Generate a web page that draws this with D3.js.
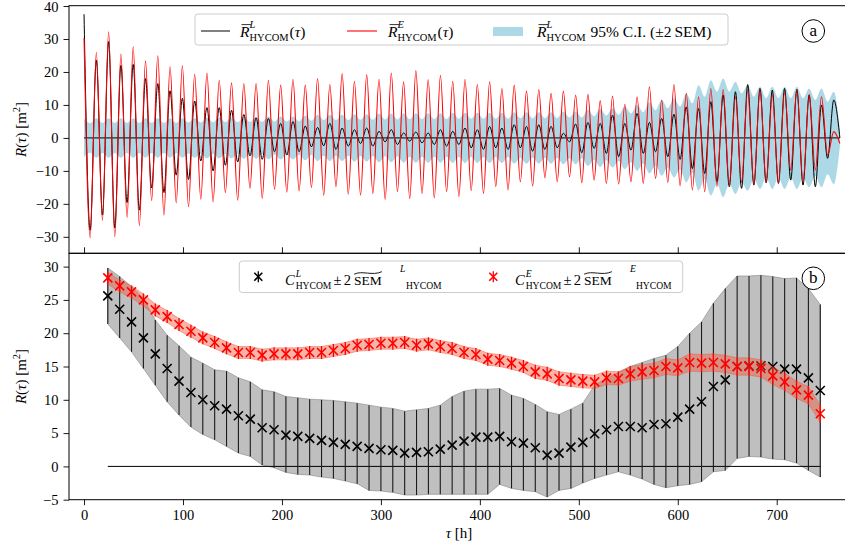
<!DOCTYPE html>
<html><head><meta charset="utf-8">
<script src="https://cdn.jsdelivr.net/npm/d3@7"></script>
<style>
html,body{margin:0;padding:0;background:#fff;}
svg{display:block;}
svg text{font-family:"Liberation Serif","DejaVu Serif",serif;white-space:pre;}
</style></head><body>
<svg id="chart" width="845" height="547"></svg>
<script>
// ---------- Panel (a): extrema of the tidal oscillations, one per half-cycle ----------
const tidalPeriod = 12.42; // h, spacing of successive peaks
const blackPeaks = [37.5, 23.6, 29.2, 22.0, 22.3, 18.0, 16.5, 14.3, 12.0, 11.2,
  9.2, 9.2, 8.4, 7.1, 6.1, 5.9, 4.4, 5.0, 3.6, 3.2,
  4.4, 3.0, 2.5, 3.0, 2.0, 2.5, 1.5, 1.8, 1.5, 2.5,
  2.0, 3.0, 2.5, 3.5, 3.0, 4.0, 3.5, 4.0, 3.5, 1.4,
  4.2, 4.7, 4.4, 6.9, 4.4, 7.4, 4.7, 5.9, 7.2, 9.4,
  8.9, 11.0, 13.0, 14.0, 16.2, 15.0, 14.5, 15.0, 14.7, 13.0,
  10.0, 11.5];
const blackTroughs = [-28.0, -23.4, -27.3, -19.6, -21.9, -15.2, -16.6, -11.3, -12.6, -7.0,
  -10.0, -8.3, -7.3, -5.5, -6.5, -4.2, -5.2, -4.2, -2.7, -2.4,
  -3.5, -2.5, -1.7, -2.5, -1.2, -2.0, -1.0, -1.5, -2.0, -2.5,
  -2.0, -3.0, -3.5, -3.0, -3.5, -3.0, -4.0, -3.5, -3.0, -1.2,
  -4.5, -3.2, -4.7, -5.7, -3.7, -4.7, -4.2, -5.7, -6.5, -9.3,
  -10.8, -13.3, -14.8, -15.3, -14.3, -13.6, -13.8, -12.8, -14.3, -14.8,
  -6.2, 0.0];
const redPeaks = [30.4, 25.9, 32.2, 25.4, 27.6, 23.3, 24.9, 21.6, 21.9, 19.3,
  19.7, 17.5, 16.7, 16.5, 16.5, 17.5, 16.0, 17.8, 16.0, 18.0,
  16.2, 19.5, 17.2, 19.2, 17.8, 19.7, 17.0, 20.4, 17.7, 19.0,
  17.2, 17.8, 16.2, 17.0, 15.0, 16.0, 14.2, 14.7, 13.5, 14.2,
  13.0, 13.2, 11.3, 12.7, 10.2, 12.5, 15.5, 11.5, 16.2, 13.5,
  12.5, 15.0, 14.7, 12.5, 14.5, 14.7, 13.2, 14.0, 14.7, 13.2,
  12.5, 1.9];
const redTroughs = [-30.3, -25.0, -30.0, -24.1, -26.6, -19.0, -23.4, -19.7, -20.9, -18.6,
  -19.4, -16.6, -18.9, -15.3, -18.4, -15.6, -16.5, -16.1, -15.1, -17.4,
  -14.8, -17.1, -17.4, -16.9, -18.7, -16.3, -18.4, -16.9, -18.2, -16.3,
  -17.8, -16.0, -16.9, -14.8, -15.8, -13.3, -14.6, -12.1, -13.3, -11.8,
  -13.6, -12.8, -13.8, -14.0, -13.3, -13.8, -12.3, -13.5, -14.5, -15.8,
  -16.3, -14.8, -14.3, -13.5, -14.3, -13.6, -13.8, -9.8, -13.5, -9.8,
  -5.2, -1.7];
// 95% C.I. half-width (±2 SEM) of R^L: wide and narrow part of each cycle
const ciOuter = [5.8, 6.0, 6.0, 6.0, 6.0, 6.0, 6.0, 6.0, 6.0, 6.0,
  6.2, 6.2, 6.2, 6.3, 6.3, 6.5, 6.5, 6.5, 6.8, 7.0,
  7.0, 7.0, 7.2, 7.2, 7.4, 7.4, 7.5, 7.5, 7.5, 7.5,
  7.6, 7.6, 7.6, 7.6, 7.6, 7.8, 7.8, 7.8, 7.8, 8.0,
  8.0, 8.5, 8.8, 9.0, 9.5, 10.0, 10.8, 11.5, 12.0, 13.5,
  16.0, 17.5, 18.0, 17.0, 16.0, 15.5, 15.5, 15.5, 15.5, 15.0,
  15.0, 14.0];
const ciInner = [4.5, 4.6, 4.6, 4.6, 4.6, 4.6, 4.6, 4.6, 4.7, 4.7,
  4.8, 4.8, 4.8, 4.9, 4.9, 5.0, 5.0, 5.1, 5.2, 5.4,
  5.4, 5.4, 5.5, 5.5, 5.6, 5.6, 5.7, 5.7, 5.7, 5.7,
  5.8, 5.8, 5.8, 5.8, 5.8, 6.0, 6.0, 6.0, 6.0, 6.2,
  6.2, 6.6, 6.8, 7.0, 7.4, 7.8, 8.4, 9.0, 9.5, 10.5,
  12.5, 14.0, 14.0, 13.5, 12.5, 12.0, 12.0, 12.0, 12.0, 11.5,
  11.0, 2.5];

// ---------- Panel (b) ----------
const tauB = [24, 36, 48, 60, 72, 84, 96, 108, 120, 132, 144, 156, 168, 180, 192, 204, 216, 228, 240, 252,
  264, 276, 288, 300, 312, 324, 336, 348, 360, 372, 384, 396, 408, 420, 432, 444, 456, 468, 480, 492,
  504, 516, 528, 540, 552, 564, 576, 588, 600, 612, 624, 636, 648, 660, 672, 684, 696, 708, 720, 732, 744];
const cL = [25.6, 23.6, 21.7, 19.3, 16.9, 14.7, 12.8, 11.1, 10.0, 9.1,
  8.6, 7.6, 7.1, 5.8, 5.5, 4.7, 4.5, 4.2, 3.9, 3.6,
  3.3, 3.0, 2.7, 2.5, 2.4, 2.0, 2.1, 2.2, 2.6, 3.2,
  3.8, 4.4, 4.4, 4.5, 3.7, 3.5, 2.8, 1.7, 2.0, 2.9,
  3.6, 4.9, 5.5, 6.0, 6.0, 5.8, 6.3, 6.4, 7.4, 8.6,
  9.7, 12.0, 13.0, 15.0, 15.1, 15.1, 15.0, 14.6, 14.6, 13.3,
  11.4];
const cLhi = [29.8, 28.5, 27.0, 25.2, 22.0, 19.7, 18.1, 16.4, 15.5, 14.5,
  14.3, 13.3, 12.7, 11.5, 11.2, 10.5, 10.3, 10.1, 10.0, 9.9,
  9.7, 9.5, 9.2, 8.9, 8.7, 8.3, 8.5, 8.7, 9.2, 10.5,
  11.3, 11.6, 11.6, 11.7, 10.7, 10.2, 9.3, 8.2, 7.8, 8.6,
  9.5, 12.2, 13.2, 14.1, 15.0, 15.6, 16.2, 16.7, 18.0, 20.0,
  21.7, 24.5, 26.7, 28.6, 28.6, 28.7, 28.5, 28.2, 28.3, 26.7,
  24.3];
const cLlo = [21.4, 19.3, 17.2, 14.7, 12.2, 9.7, 7.7, 5.9, 4.8, 4.0,
  3.0, 2.0, 1.5, 0.2, -0.2, -0.9, -1.2, -1.3, -1.6, -1.8,
  -2.2, -2.6, -3.6, -3.7, -3.9, -4.3, -4.3, -4.2, -4.2, -4.2,
  -4.2, -4.2, -4.2, -2.7, -3.3, -3.6, -3.8, -4.6, -3.6, -3.3,
  -2.5, -1.8, -1.3, -0.8, -1.3, -1.9, -2.7, -3.2, -2.9, -2.7,
  -2.3, -0.8, -0.6, 1.2, 1.5, 1.4, 1.1, 1.0, 0.5, -0.6,
  -1.6];
const cE = [28.3, 27.1, 26.2, 25.0, 23.5, 22.5, 21.3, 20.3, 19.3, 18.6,
  17.8, 17.1, 17.1, 16.7, 16.9, 16.9, 16.9, 17.1, 17.1, 17.4,
  17.7, 18.2, 18.3, 18.5, 18.5, 18.6, 18.2, 18.4, 18.0, 17.7,
  17.1, 16.8, 16.1, 15.9, 15.5, 15.0, 14.2, 13.9, 13.2, 13.0,
  12.8, 12.7, 13.3, 13.2, 13.9, 14.2, 14.4, 15.0, 14.8, 15.6,
  15.5, 15.6, 15.4, 15.0, 15.0, 14.7, 13.6, 12.7, 11.5, 10.7,
  7.9];
const cEhalf = [0.9, 0.9, 0.9, 0.9, 0.9, 0.9, 0.9, 0.9, 0.9, 0.9,
  0.9, 0.9, 0.9, 0.9, 0.9, 0.9, 0.9, 0.9, 0.9, 0.9,
  0.9, 0.9, 0.9, 0.9, 0.9, 0.9, 0.9, 0.9, 0.9, 0.9,
  0.9, 0.9, 0.9, 0.9, 0.9, 0.9, 1.0, 1.0, 1.0, 1.0,
  1.0, 1.0, 1.0, 1.0, 1.1, 1.1, 1.1, 1.2, 1.2, 1.3,
  1.3, 1.3, 1.3, 1.3, 1.3, 1.3, 1.3, 1.3, 1.3, 1.3,
  1.3];

const xTicks = [0, 100, 200, 300, 400, 500, 600, 700];
const yTicksA = [-30, -20, -10, 0, 10, 20, 30, 40];
const yTicksB = [-5, 0, 5, 10, 15, 20, 25, 30];

// ---------- Scales ----------
const svg = d3.select("#chart");
const x = d3.scaleLinear().domain([-15.2, 770]).range([69, 846]);
const yA = d3.scaleLinear().domain([-35.0, 40.1]).range([253.3, 5.7]);
const yB = d3.scaleLinear().domain([-5, 32]).range([499.7, 253.3]);
const fmt = d => (d < 0 ? "\u2212" + Math.abs(d) : String(d));

// ---------- Panel (a) ----------
const gA = svg.append("g");
const series = (hi, lo) => {
  const pts = [];
  hi.forEach((v, k) => { pts.push([k * tidalPeriod, v]); pts.push([(k + 0.5) * tidalPeriod, lo[k]]); });
  return pts;
};
const bandPts = series(ciOuter, ciInner);
gA.append("path").datum(bandPts)
  .attr("d", d3.area().x(d => x(d[0])).y0(d => yA(-d[1])).y1(d => yA(d[1])).curve(d3.curveMonotoneX))
  .attr("fill", "#add8e6");
const lastT = (blackPeaks.length - 0.5) * tidalPeriod;
gA.append("line").attr("x1", x(0)).attr("x2", x(lastT)).attr("y1", yA(0)).attr("y2", yA(0))
  .attr("stroke", "#000").attr("stroke-width", 1);
const lineA = d3.line().x(d => x(d[0])).y(d => yA(d[1])).curve(d3.curveMonotoneX);
gA.append("path").datum(series(blackPeaks, blackTroughs)).attr("d", lineA)
  .attr("fill", "none").attr("stroke", "#000").attr("stroke-width", 1);
gA.append("path").datum(series(redPeaks, redTroughs)).attr("d", lineA)
  .attr("fill", "none").attr("stroke", "#ff0000").attr("stroke-width", 1.1);

// ---------- Panel (b) ----------
const gB = svg.append("g");
const idx = d3.range(tauB.length);
gB.append("path").datum(idx)
  .attr("d", d3.area().x(i => x(tauB[i])).y0(i => yB(cLlo[i])).y1(i => yB(cLhi[i])))
  .attr("fill", "#7f7f7f").attr("fill-opacity", 0.5)
  .attr("stroke", "#7f7f7f").attr("stroke-opacity", 0.55).attr("stroke-width", 1);
gB.append("line").attr("x1", x(tauB[0])).attr("x2", x(tauB[tauB.length - 1]))
  .attr("y1", yB(0)).attr("y2", yB(0)).attr("stroke", "#000").attr("stroke-width", 1);
gB.selectAll(".ebL").data(idx).join("line")
  .attr("x1", i => x(tauB[i])).attr("x2", i => x(tauB[i]))
  .attr("y1", i => yB(cLlo[i])).attr("y2", i => yB(cLhi[i]))
  .attr("stroke", "#1a1a1a").attr("stroke-width", 1.1);
const xMark = s => `M${-s},${-s}L${s},${s}M${-s},${s}L${s},${-s}`;
gB.selectAll(".mkL").data(idx).join("path")
  .attr("transform", i => `translate(${x(tauB[i])},${yB(cL[i])})`)
  .attr("d", xMark(4.5)).attr("fill", "none").attr("stroke", "#000").attr("stroke-width", 1.6);
gB.append("path").datum(idx)
  .attr("d", d3.area().x(i => x(tauB[i])).y0(i => yB(cE[i] - cEhalf[i])).y1(i => yB(cE[i] + cEhalf[i])))
  .attr("fill", "#f0583c").attr("fill-opacity", 0.45)
  .attr("stroke", "#f0583c").attr("stroke-opacity", 0.45).attr("stroke-width", 1);
gB.selectAll(".ebE").data(idx).join("line")
  .attr("x1", i => x(tauB[i])).attr("x2", i => x(tauB[i]))
  .attr("y1", i => yB(cE[i] - cEhalf[i]) + 0.5).attr("y2", i => yB(cE[i] + cEhalf[i]) - 0.5)
  .attr("stroke", "#ff0000").attr("stroke-width", 1.3);
gB.selectAll(".mkE").data(idx).join("path")
  .attr("transform", i => `translate(${x(tauB[i])},${yB(cE[i])})`)
  .attr("d", xMark(4.5)).attr("fill", "none").attr("stroke", "#ff0000").attr("stroke-width", 1.6);

// ---------- Axes & frames ----------
function styleAxis(g) {
  g.attr("font-family", null).attr("font-size", null);
  g.select(".domain").remove();
  g.selectAll(".tick line").attr("stroke", "#000").attr("stroke-width", 0.9);
  g.selectAll(".tick text").attr("font-size", 14.5).attr("fill", "#000");
}
svg.append("g").attr("transform", "translate(69,0)")
  .call(d3.axisLeft(yA).tickValues(yTicksA).tickFormat(fmt).tickSize(5.5).tickPadding(5)).call(styleAxis)
  .selectAll(".tick").filter(d => d === 40).select("text").attr("y", 1.2);
svg.append("g").attr("transform", "translate(0,253.3)")
  .call(d3.axisBottom(x).tickValues(xTicks).tickFormat("").tickSize(-6)).call(styleAxis);
svg.append("g").attr("transform", "translate(69,0)")
  .call(d3.axisLeft(yB).tickValues(yTicksB).tickFormat(fmt).tickSize(5.5).tickPadding(5)).call(styleAxis);
svg.append("g").attr("transform", "translate(0,499.7)")
  .call(d3.axisBottom(x).tickValues(xTicks).tickFormat(fmt).tickSize(5.5).tickPadding(5)).call(styleAxis);
svg.append("rect").attr("x", 69).attr("y", 5.7).attr("width", 777).attr("height", 247.6)
  .attr("fill", "none").attr("stroke", "#000").attr("stroke-width", 1);
svg.append("rect").attr("x", 69).attr("y", 253.3).attr("width", 777).attr("height", 246.4)
  .attr("fill", "none").attr("stroke", "#000").attr("stroke-width", 1);

// ---------- Axis labels ----------
function yLabel(cy) {
  const t = svg.append("text").attr("transform", `translate(26,${cy}) rotate(-90)`)
    .attr("text-anchor", "middle").attr("font-size", 15);
  t.append("tspan").attr("font-style", "italic").text("R");
  t.append("tspan").text("(");
  t.append("tspan").attr("font-style", "italic").text("\u03c4");
  t.append("tspan").text(") [m");
  t.append("tspan").attr("font-size", 10.5).attr("dy", -6).text("2");
  t.append("tspan").attr("dy", 6).text("]");
}
yLabel(129.5);
yLabel(376.5);
const xl = svg.append("text").attr("x", 459).attr("y", 538).attr("text-anchor", "middle").attr("font-size", 15);
xl.append("tspan").attr("font-style", "italic").text("\u03c4");
xl.append("tspan").text(" [h]");

// ---------- Math-like text layout ----------
function mathText(g, x0, y0, parts, fs, sfs) {
  let cx = x0;
  const ss = sfs || fs * 0.7;
  for (const p of parts) {
    if (p.gap) { cx += p.gap; continue; }
    if (p.script) {
      const sx = cx + (p.dx || 0);
      let w = 0;
      if (p.sup != null) {
        const t = g.append("text").attr("x", sx + (p.supDx || 0)).attr("y", y0 - (p.supUp || fs * 0.45))
          .attr("font-size", ss).attr("font-style", "italic").text(p.sup);
        w = Math.max(w, t.node().getComputedTextLength() + (p.supDx || 0));
      }
      if (p.sub != null) {
        const t = g.append("text").attr("x", sx).attr("y", y0 + fs * 0.25)
          .attr("font-size", ss).text(p.sub);
        w = Math.max(w, t.node().getComputedTextLength());
      }
      cx = sx + w + 1;
    } else {
      const f = p.fs || fs;
      const t = g.append("text").attr("x", cx).attr("y", y0).attr("font-size", f)
        .attr("font-style", p.it ? "italic" : "normal").text(p.t);
      const w = t.node().getComputedTextLength();
      if (p.over) {
        g.append("line").attr("x1", cx + 1.5).attr("x2", cx + w + 1.5)
          .attr("y1", y0 - f * 0.8).attr("y2", y0 - f * 0.8).attr("stroke", "#000").attr("stroke-width", 0.8);
      }
      if (p.tilde) {
        const ty = y0 - f * 0.95;
        g.append("path").attr("d", `M${cx},${ty + 2} C${cx + w * 0.3},${ty - 2} ${cx + w * 0.65},${ty + 4} ${cx + w},${ty - 0.5}`)
          .attr("fill", "none").attr("stroke", "#000").attr("stroke-width", 0.9);
      }
      cx += w + (p.after || 0);
    }
  }
  return cx;
}

// ---------- Legend (a) ----------
const lgA = svg.append("g");
lgA.append("rect").attr("x", 195).attr("y", 14).attr("width", 533).attr("height", 31).attr("rx", 3)
  .attr("fill", "#fff").attr("fill-opacity", 0.8).attr("stroke", "#cccccc").attr("stroke-width", 1);
lgA.append("line").attr("x1", 201).attr("x2", 230).attr("y1", 31).attr("y2", 31).attr("stroke", "#000").attr("stroke-width", 1);
lgA.append("line").attr("x1", 347).attr("x2", 377).attr("y1", 31).attr("y2", 31).attr("stroke", "#ff0000").attr("stroke-width", 1.1);
lgA.append("rect").attr("x", 493).attr("y", 27).attr("width", 30).attr("height", 9).attr("fill", "#add8e6");
mathText(lgA, 240, 37, [{ t: "R", it: true, over: true }, { script: true, sup: "L", sub: "HYCOM", supUp: 9 },
  { t: "(" }, { t: "\u03c4", it: true }, { t: ")" }], 15.5, 10.5);
mathText(lgA, 388, 37, [{ t: "R", it: true, over: true }, { script: true, sup: "E", sub: "HYCOM", supUp: 9 },
  { t: "(" }, { t: "\u03c4", it: true }, { t: ")" }], 15.5, 10.5);
mathText(lgA, 537, 37, [{ t: "R", it: true, over: true }, { script: true, sup: "L", sub: "HYCOM", supUp: 9 },
  { gap: 4 }, { t: "95% C.I. (\u00b12\u2009SEM)" }], 15.5, 10.5);
// panel tag (a)
svg.append("circle").attr("cx", 813.3).attr("cy", 31).attr("r", 11.3).attr("fill", "none").attr("stroke", "#000").attr("stroke-width", 1);
svg.append("text").attr("x", 813.3).attr("y", 36).attr("text-anchor", "middle").attr("font-size", 17).text("a");

// ---------- Legend (b) ----------
const lgB = svg.append("g");
lgB.append("rect").attr("x", 239.3).attr("y", 261).attr("width", 443.4).attr("height", 31.5).attr("rx", 3)
  .attr("fill", "#fff").attr("fill-opacity", 0.8).attr("stroke", "#cccccc").attr("stroke-width", 1);
[[258.3, "#000"], [493.3, "#ff0000"]].forEach(([mx, col]) => {
  lgB.append("line").attr("x1", mx).attr("x2", mx).attr("y1", 276.7 - 5.5).attr("y2", 276.7 + 5.5)
    .attr("stroke", col).attr("stroke-width", 1.3);
  lgB.append("path").attr("transform", `translate(${mx},276.7)`).attr("d", xMark(4))
    .attr("fill", "none").attr("stroke", col).attr("stroke-width", 1.6);
});
["L", "E"].forEach((s, j) => {
  mathText(lgB, j === 0 ? 285 : 515, 285, [
    { t: "C", it: true }, { script: true, sup: s, sub: "HYCOM", dx: 1, supUp: 8.5 },
    { gap: 1 }, { t: "\u00b1" }, { gap: 2.5 }, { t: "2" }, { gap: 3 },
    { t: "SEM", tilde: true, fs: 13.5 }, { script: true, sup: s, sub: "HYCOM", dx: 24, supDx: -6, supUp: 13.5 }
  ], 14.5, 9.6);
});
svg.append("circle").attr("cx", 813.3).attr("cy", 278.3).attr("r", 11.3).attr("fill", "none").attr("stroke", "#000").attr("stroke-width", 1);
svg.append("text").attr("x", 813.3).attr("y", 283.3).attr("text-anchor", "middle").attr("font-size", 17).text("b");
</script></body></html>
